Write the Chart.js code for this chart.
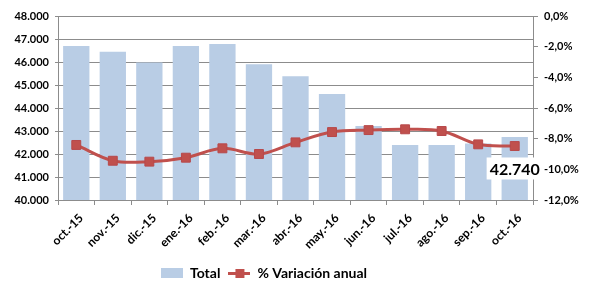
<!DOCTYPE html>
<html>
<head>
<meta charset="utf-8">
<script src="https://cdn.jsdelivr.net/npm/chart.js@4"></script>
<style>
html,body{margin:0;padding:0;background:#fff;}
#c{display:block;}
</style>
</head>
<body>
<canvas id="c" width="598" height="282"></canvas>
<script>
const categories = ["oct.-15","nov.-15","dic.-15","ene.-16","feb.-16","mar.-16","abr.-16","may.-16","jun.-16","jul.-16","ago.-16","sep.-16","oct.-16"];
const totalValues = [46700, 46450, 45980, 46700, 46780, 45900, 45380, 44610, 43220, 42390, 42390, 42460, 42740];
const variacionValues = [-8.41, -9.44, -9.50, -9.24, -8.63, -9.00, -8.24, -7.57, -7.44, -7.39, -7.50, -8.37, -8.48];
const leftTicks = [40000, 48000, 1000];
const rightTicks = [-12, 0, 2];
const seriesNames = ["Total", "% Variación anual"];
const labelIndex = 12;

const FONT = "Lato, 'Liberation Sans', sans-serif";
const BAR = "#B9CDE5";
const RED = "#C0504D";
const GRID = "#8C8C8C";

function fmtThousands(v){ return (v/1000).toFixed(3); }

function makeBoxImg(){
  const c = document.createElement('canvas'); c.width = 22; c.height = 10;
  const x = c.getContext('2d'); x.fillStyle = BAR; x.fillRect(0,0,22,10); return c;
}
function makeLineImg(){
  const c = document.createElement('canvas'); c.width = 22; c.height = 10;
  const x = c.getContext('2d'); x.fillStyle = RED; x.fillRect(0,4,22,3); x.fillRect(7,1,9,9); return c;
}

const dataLabelPlugin = {
  id: 'dataLabel',
  afterDraw(chart){
    const xs = chart.scales.x, ys = chart.scales.y;
    const px = xs.getPixelForValue(labelIndex);
    const top = ys.getPixelForValue(totalValues[labelIndex]);
    const base = ys.getPixelForValue(leftTicks[0]);
    const ctx = chart.ctx;
    const txt = fmtThousands(totalValues[labelIndex]);
    ctx.save();
    ctx.font = "bold 16px " + FONT;
    const w = ctx.measureText(txt).width;
    const cy = (top + base) / 2;
    ctx.fillStyle = "#fff";
    ctx.fillRect(px - w/2 - 3, cy - 11, w + 6, 22);
    ctx.fillStyle = "#000";
    ctx.textAlign = "center"; ctx.textBaseline = "middle";
    ctx.fillText(txt, px, cy + 1);
    ctx.restore();
  }
};

const legendShiftPlugin = {
  id: 'legendShift',
  afterLayout(chart){
    const lg = chart.legend;
    if (!lg) return;
    const pad = lg.options.labels.padding;
    const targetStart = 161;
    const w = lg.right - lg.left;
    lg.left = targetStart - pad;
    lg.right = lg.left + w;
  }
};

new Chart(document.getElementById('c'), {
  data: {
    labels: categories,
    datasets: [
      { type: 'bar', label: seriesNames[0], data: totalValues, backgroundColor: BAR, yAxisID: 'y', order: 1,
        barPercentage: 0.72, categoryPercentage: 1.0 },
      { type: 'line', label: seriesNames[1], data: variacionValues, yAxisID: 'y1', order: 0,
        borderColor: RED, borderWidth: 3, tension: 0.35, pointStyle: 'rect', pointRadius: 6.3,
        pointBackgroundColor: RED, pointBorderColor: "#B7484A", pointBorderWidth: 1 }
    ]
  },
  options: {
    responsive: false, animation: false, devicePixelRatio: 1,
    layout: { padding: { top: 16, left: 0, right: 0, bottom: -8 } },
    plugins: {
      tooltip: { enabled: false },
      legend: {
        position: 'bottom', align: 'start',
        labels: {
          usePointStyle: true, pointStyleWidth: 22, padding: 8,
          color: '#000', font: { family: FONT, size: 14, weight: 'bold' },
          generateLabels(chart){
            return [
              { text: seriesNames[0], pointStyle: makeBoxImg(), datasetIndex: 0, fillStyle: BAR, strokeStyle: BAR, lineWidth: 0 },
              { text: seriesNames[1], pointStyle: makeLineImg(), datasetIndex: 1, fillStyle: RED, strokeStyle: RED, lineWidth: 0 }
            ];
          }
        }
      }
    },
    scales: {
      x: {
        grid: { display: true, offset: true, drawOnChartArea: false, drawTicks: true, tickLength: 5, color: GRID },
        border: { display: true, color: GRID },
        ticks: { maxRotation: 45, minRotation: 45, color: '#000', font: { family: FONT, size: 12, weight: 'bold' }, padding: 6, labelOffset: 5, autoSkip: false },
        afterFit(s){ s.height = 58; }
      },
      y: {
        position: 'left', min: leftTicks[0], max: leftTicks[1],
        ticks: { stepSize: leftTicks[2], color: '#000', font: { family: FONT, size: 11, weight: 'bold' }, padding: 6, callback: v => fmtThousands(v) },
        grid: { color: GRID, tickLength: 3 },
        border: { color: GRID },
        afterFit(s){ s.width = 58; }
      },
      y1: {
        position: 'right', min: rightTicks[0], max: rightTicks[1],
        ticks: { stepSize: rightTicks[2], color: '#000', font: { family: FONT, size: 11, weight: 'bold' }, padding: 6,
          callback: v => (Math.abs(v) < 1e-9 ? 0 : v).toFixed(1).replace('.', ',') + '%' },
        grid: { drawOnChartArea: false, tickLength: 5, color: GRID },
        border: { color: GRID },
        afterFit(s){ s.width = 65; }
      }
    }
  },
  plugins: [dataLabelPlugin, legendShiftPlugin]
});
</script>
</body>
</html>
